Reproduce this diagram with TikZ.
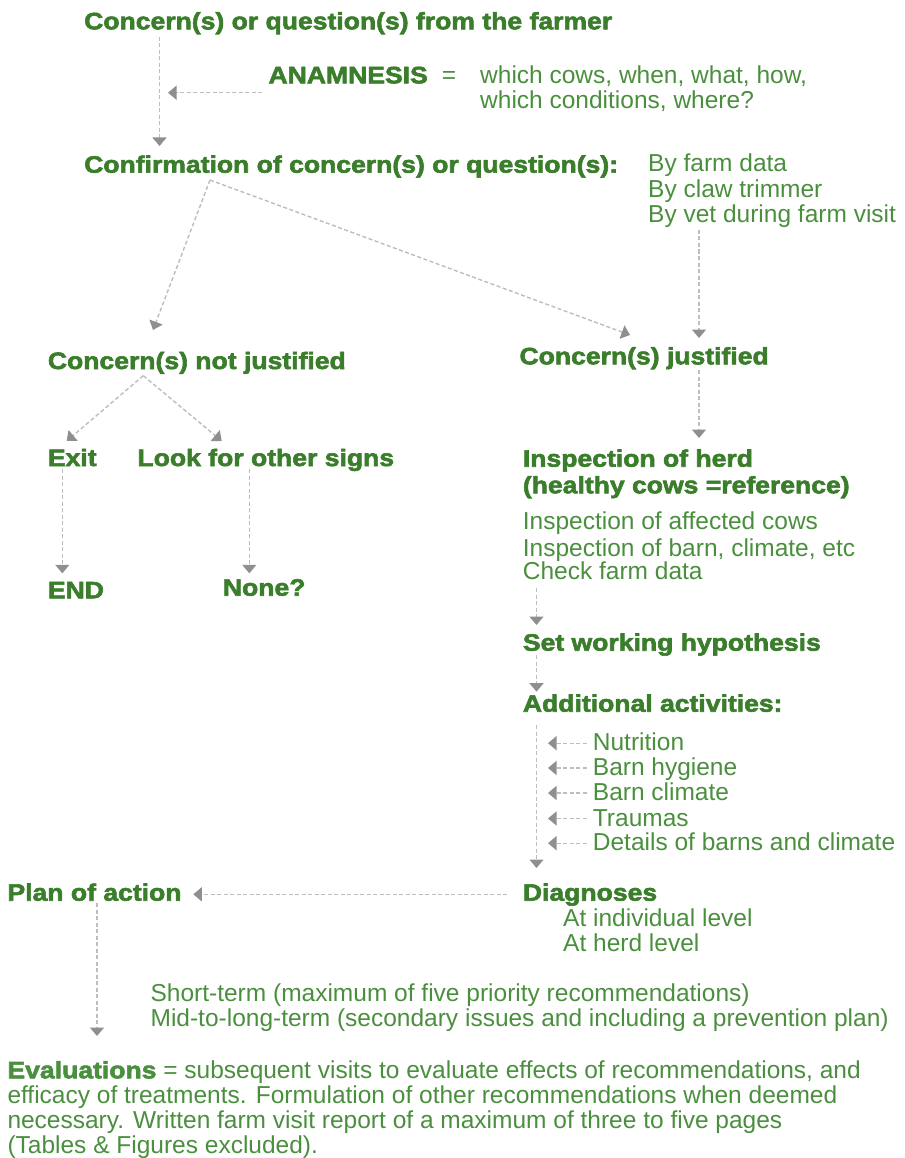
\documentclass[tikz,border=0pt]{standalone}
\usepackage{fontspec}
\setmainfont{Liberation Sans}
\newfontfamily\heavyfont{Liberation Sans}[FakeStretch=1.12,BoldFeatures={FakeBold=2.5}]
\usepackage{xcolor}
\usetikzlibrary{arrows.meta,calc}

\definecolor{headgreen}{HTML}{3A7D2B}
\definecolor{bodygreen}{HTML}{4A8F3E}
\definecolor{linegray}{HTML}{BDBDBF}
\definecolor{tipgray}{HTML}{8E8E93}

\newcommand{\headfont}{\heavyfont\bfseries\fontsize{23.7}{26.6}\selectfont}
\newcommand{\bodyfont}{\fontsize{24.5}{25}\selectfont}

\begin{document}
\begin{tikzpicture}[
  x=1pt, y=-1pt,
  head/.style={font=\headfont, text=headgreen, anchor=base west, inner sep=0pt, align=left},
  body/.style={font=\bodyfont, text=bodygreen, anchor=base west, inner sep=0pt, align=left},
  arrow/.style={draw=linegray, line width=1.4pt, dash pattern=on 4pt off 2.5pt,
    -{Triangle[length=8.5pt,width=14pt,color=tipgray]}}
]
\useasboundingbox (0,0) rectangle (904,1158);

% top part (multi-line nodes sit on the baseline of their last line)
\node[head] (farmer) at (84,29.3) {Concern(s) or question(s) from the farmer};
\node[head] (anam) at (268.3,83.3) {ANAMNESIS};
\node[body] (eq) at (441.7,83.5) {=};
\node[body] (which) at (480,108.3) {which cows, when, what, how,\\which conditions, where?};
\node[head] (confirm) at (84,172.7) {Confirmation of concern(s) or question(s):};
\node[body] (byfarm) at (648,222.7) {By farm data\\[0.5pt]By claw trimmer\\[0.5pt]By vet during farm visit};

% left branch
\node[head] (notjust) at (47.7,369) {Concern(s) not justified};
\node[head] (exit) at (47.7,466) {Exit};
\node[head] (look) at (137.3,466) {Look for other signs};
\node[head] (theend) at (47.7,598.3) {END};
\node[head] (none) at (222.7,595.7) {None?};

% right branch
\node[head] (just) at (519.3,364.3) {Concern(s) justified};
\node[head] (herd) at (522.7,493.3) {Inspection of herd\\(healthy cows =reference)};
\node[body] (checks) at (522.7,579.3) {Inspection of affected cows\\[2.4pt]Inspection of barn, climate, etc\\[-2.4pt]Check farm data};
\node[head] (hypo) at (522.7,650.7) {Set working hypothesis};
\node[head] (addit) at (522.7,711.7) {Additional activities:};
\foreach \name/\txt/\yy in {item1/Nutrition/750.7, item2/Barn hygiene/775.5,
    item3/Barn climate/800.5, item4/Traumas/826, item5/Details of barns and climate/850.7}{
  \node[body] (\name) at (592.7,\yy) {\txt};
  \draw[arrow] ([xshift=-6pt,yshift=7.5pt]\name.base west) -- ([xshift=-44.7pt,yshift=7.5pt]\name.base west);
}
\node[head] (diag) at (522.7,900.7) {Diagnoses};
\node[body] (levels) at (563,951.7) {At individual level\\At herd level};

% bottom part
\node[head] (plan) at (7.3,900.7) {Plan of action};
\node[body] (terms) at (150.4,1026.7) {Short-term (maximum of five priority recommendations)\\Mid-to-long-term (secondary issues and including a prevention plan)};
\node[body] (evalu) at (7.3,1153.3) {{\headfont Evaluations} = subsequent visits to evaluate effects of recommendations, and\\efficacy of treatments. Formulation of other recommendations when deemed\\necessary. Written farm visit report of a maximum of three to five pages\\(Tables \& Figures excluded).};

% connectors
\draw[arrow] ([xshift=75.5pt,yshift=-7.7pt]farmer.base west) -- ([xshift=75.5pt,yshift=26.7pt]confirm.base west);
\draw[arrow] ([xshift=-6pt,yshift=-9.4pt]anam.base west) -- ([xshift=-100.3pt,yshift=-9.4pt]anam.base west);
\draw[arrow] ([xshift=126pt,yshift=-7.3pt]confirm.base west) -- ([xshift=105.3pt,yshift=39pt]notjust.base west);
\draw[arrow] ([xshift=126pt,yshift=-7.3pt]confirm.base west) -- ([xshift=110.7pt,yshift=29.3pt]just.base west);
\draw[arrow] ([xshift=51pt,yshift=-7.3pt]byfarm.base west) -- ([xshift=179.7pt,yshift=26.3pt]just.base west);
\draw[arrow] ([xshift=179.7pt,yshift=-5.7pt]just.base west) -- ([xshift=176.3pt,yshift=55.3pt]herd.base west);
\draw[arrow] ([xshift=95.6pt,yshift=-6.7pt]notjust.base west) -- ([xshift=19pt,yshift=25pt]exit.base west);
\draw[arrow] ([xshift=95.6pt,yshift=-6.7pt]notjust.base west) -- ([xshift=84.4pt,yshift=25pt]look.base west);
\draw[arrow] ([xshift=14.6pt,yshift=-3.3pt]exit.base west) -- ([xshift=14.6pt,yshift=25pt]theend.base west);
\draw[arrow] ([xshift=112pt,yshift=-3.3pt]look.base west) -- ([xshift=26.6pt,yshift=22.4pt]none.base west);
\draw[arrow] ([xshift=13.8pt,yshift=-8.7pt]checks.base west) -- ([xshift=13.8pt,yshift=25.7pt]hypo.base west);
\draw[arrow] ([xshift=13.8pt,yshift=-4.3pt]hypo.base west) -- ([xshift=13.8pt,yshift=20pt]addit.base west);
\draw[arrow] ([xshift=13.8pt,yshift=-13.3pt]addit.base west) -- ([xshift=13.8pt,yshift=32.7pt]diag.base west);
\draw[arrow] ([xshift=-15.7pt,yshift=6.4pt]diag.base west) -- ([xshift=186pt,yshift=6.4pt]plan.base west);
\draw[arrow] ([xshift=89.7pt,yshift=-2.3pt]plan.base west) -- ([xshift=89.7pt,yshift=117.3pt]evalu.base west);
\end{tikzpicture}
\end{document}
